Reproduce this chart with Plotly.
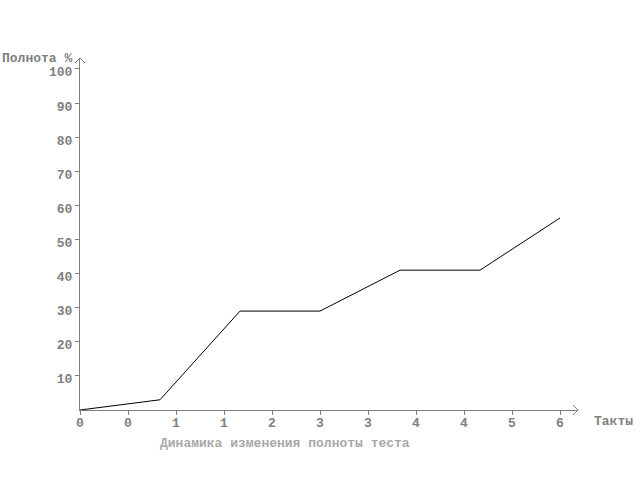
import plotly.graph_objects as go

# data
steps = [0, 1, 2, 3, 4, 5, 6]
completeness = [0, 3, 29, 29, 41, 41, 56.3]
x_tick_values = [0, 0.6, 1.2, 1.8, 2.4, 3.0, 3.6, 4.2, 4.8, 5.4, 6.0]
x_tick_labels = ["0", "0", "1", "1", "2", "3", "3", "4", "4", "5", "6"]
y_tick_values = [10, 20, 30, 40, 50, 60, 70, 80, 90, 100]
y_tick_labels = ["10", "20", "30", "40", "50", "60", "70", "80", "90", "100"]

title_text = "Динамика изменения полноты теста"
x_title = "Такты"
y_title = "Полнота %"

FONT = "Liberation Mono"
AX = "#808080"

W_PX, H_PX = 498.0, 352.0

fig = go.Figure()
fig.add_trace(go.Scatter(x=steps, y=completeness, mode="lines",
                         line=dict(color="black", width=1), hoverinfo="skip"))

tf = dict(family=FONT, size=13, color=AX, weight="bold")
fig.update_layout(
    width=640, height=480,
    margin=dict(l=80, r=62, t=58, b=70),
    paper_bgcolor="white", plot_bgcolor="white",
    showlegend=False,
    font=tf,
    xaxis=dict(range=[0, 6.225], showgrid=False, zeroline=False,
               showline=True, linecolor=AX, linewidth=1, automargin=False,
               ticks="outside", ticklen=4, tickcolor=AX, tickwidth=1,
               ticklabelstandoff=-4,
               tickvals=x_tick_values, ticktext=x_tick_labels, tickfont=tf),
    yaxis=dict(range=[0, 103.2], showgrid=False, zeroline=False,
               showline=True, linecolor=AX, linewidth=1, automargin=False,
               ticks="outside", ticklen=4, tickcolor=AX, tickwidth=1,
               ticklabelshift=3,
               tickvals=y_tick_values, ticktext=y_tick_labels, tickfont=tf),
)

# arrows (paper coords, not clipped)
ax = 5 / W_PX
ay = 5 / H_PX
fig.add_shape(type="path", xref="paper", yref="paper",
              path=f"M {1 - ax} {ay} L 1 0 L {1 - ax} {-ay}",
              line=dict(color=AX, width=1))
fig.add_shape(type="path", xref="paper", yref="paper",
              path=f"M {-ax} {1 - ay} L 0 1 L {ax} {1 - ay}",
              line=dict(color=AX, width=1))

fig.add_annotation(xref="paper", yref="paper", x=(592 - 80) / W_PX, y=(410 - 421) / H_PX,
                   text=x_title, showarrow=False, xanchor="left", yanchor="middle",
                   font=tf)
fig.add_annotation(xref="paper", yref="paper", x=-80 / W_PX, y=(410 - 59) / H_PX,
                   text=y_title, showarrow=False, xanchor="left", yanchor="middle",
                   font=tf)
fig.add_annotation(xref="paper", yref="paper", x=(158 - 80) / W_PX, y=(410 - 443) / H_PX,
                   text=title_text, showarrow=False, xanchor="left", yanchor="middle",
                   font=dict(family=FONT, size=13, color="#a8a8a8", weight="bold"))

fig.write_html("out.html", config={"displayModeBar": False},
               post_script="document.body.style.margin='0';document.body.style.overflow='hidden';")
